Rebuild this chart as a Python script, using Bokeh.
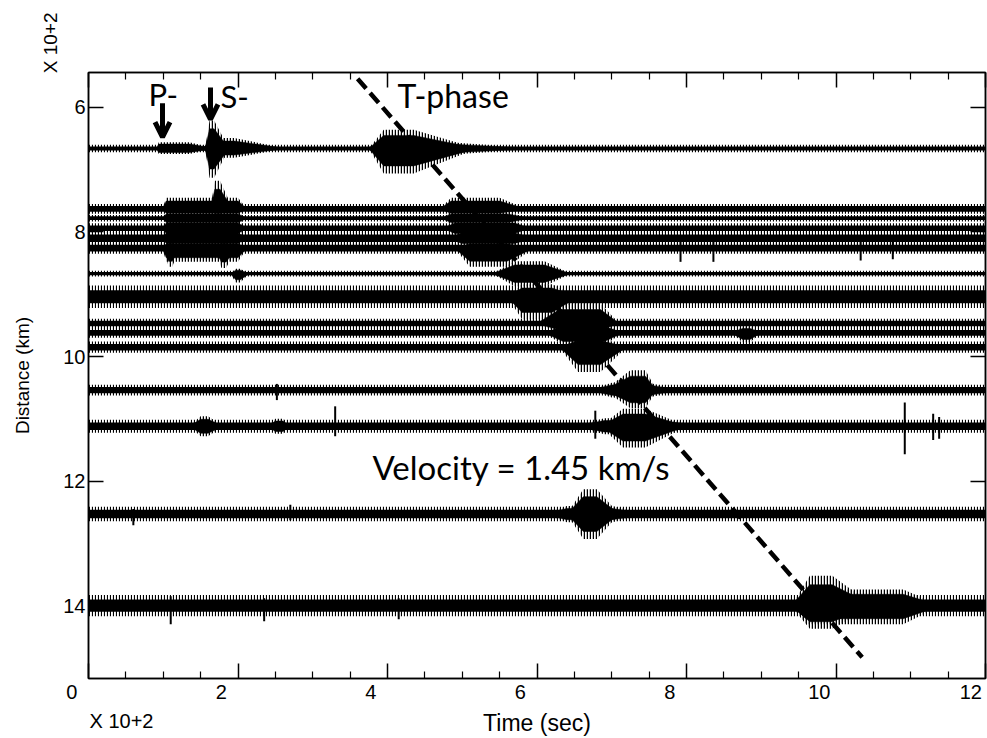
import math
from bokeh.plotting import figure
from bokeh.models import (Range1d, LinearAxis, FixedTicker, Label, Arrow,
                          OpenHead, ColumnDataSource, Title)
from bokeh.embed import file_html
from bokeh.resources import INLINE

# ---------------- data (units: x 10^2 s, x 10^2 km) ----
x_major = [0, 2, 4, 6, 8, 10, 12]
x_minor = [0.5, 1, 1.5, 2.5, 3, 3.5, 4.5, 5, 5.5, 6.5, 7, 7.5, 8.5, 9, 9.5,
           10.5, 11, 11.5]
y_major = [6, 8, 10, 12, 14]
x_tick_labels = ["0", "2", "4", "6", "8", "10", "12"]
y_tick_labels = ["6", "8", "10", "12", "14"]

record_start = 0.0
record_end = 12.0

# station distance of each trace and half-width of its background noise band
trace_dist = [6.66, 7.63, 7.78, 7.94, 8.10, 8.26, 8.67, 9.04, 9.47, 9.62,
              9.85, 10.54, 11.12, 12.53, 14.00]
trace_noise = [0.045, 0.06, 0.04, 0.06, 0.08, 0.07, 0.035, 0.14, 0.06, 0.06,
               0.07, 0.065, 0.08, 0.09, 0.13]

# wave-train envelopes: trace, onset, reach max, leave max, end, amp up, amp down
burst_trace = [0, 0, 0, 0, 0,
               1, 2, 3, 4, 5, 1, 5, 5,
               1, 2, 3, 4, 5,
               6, 7,
               8, 9, 10,
               11, 11,
               12, 12,
               13, 13,
               14, 14,
               12, 12, 9, 6]
burst_t0 = [0.91, 1.56, 1.52, 3.75, 3.60,
            0.99, 0.99, 0.99, 0.99, 0.99, 1.63, 1.68, 1.02,
            4.70, 4.72, 4.75, 4.80, 4.90,
            5.40, 5.60,
            6.00, 6.10, 6.30,
            6.90, 6.70,
            6.85, 6.50,
            6.40, 6.10,
            9.40, 9.40,
            1.35, 2.40, 8.60, 1.90]
burst_ta = [0.94, 1.62, 1.64, 3.95, 4.30,
            1.04, 1.04, 1.04, 1.04, 1.04, 1.69, 1.78, 1.07,
            4.85, 4.85, 4.90, 5.00, 5.10,
            5.70, 5.80,
            6.30, 6.35, 6.55,
            7.25, 7.00,
            7.15, 6.90,
            6.62, 6.40,
            9.65, 9.60,
            1.50, 2.50, 8.75, 1.97]
burst_tb = [1.35, 1.68, 1.95, 4.35, 4.60,
            2.00, 2.00, 2.00, 2.00, 2.00, 1.76, 1.84, 1.12,
            5.50, 5.60, 5.70, 5.70, 5.60,
            6.10, 6.20,
            6.85, 6.90, 6.85,
            7.45, 7.50,
            7.45, 7.60,
            6.80, 7.00,
            9.95, 10.90,
            1.60, 2.60, 8.85, 2.03]
burst_t1 = [1.70, 1.88, 2.65, 5.20, 6.00,
            2.12, 2.12, 2.12, 2.12, 2.12, 1.93, 1.98, 1.22,
            5.85, 5.90, 5.90, 5.95, 5.95,
            6.45, 6.55,
            7.10, 7.15, 7.20,
            7.60, 7.90,
            8.00, 8.30,
            7.10, 7.50,
            10.50, 11.40,
            1.80, 2.70, 9.00, 2.15]
burst_up = [0.10, 0.45, 0.17, 0.30, 0.12,
            0.18, 0.10, 0.12, 0.12, 0.10, 0.45, 0.10, 0.10,
            0.18, 0.10, 0.12, 0.12, 0.10,
            0.20, 0.20,
            0.32, 0.15, 0.15,
            0.32, 0.12,
            0.28, 0.13,
            0.40, 0.13,
            0.48, 0.26,
            0.16, 0.12, 0.10, 0.08]
burst_down = [0.09, 0.47, 0.15, 0.40, 0.12,
              0.10, 0.10, 0.12, 0.12, 0.22, 0.10, 0.32, 0.30,
              0.10, 0.10, 0.12, 0.12, 0.30,
              0.20, 0.36,
              0.15, 0.20, 0.40,
              0.29, 0.12,
              0.34, 0.13,
              0.40, 0.13,
              0.37, 0.30,
              0.16, 0.12, 0.15, 0.14]

# isolated spikes: trace, time, amp up, amp down
spike_trace = [12, 12, 12, 12, 12, 11, 5, 5, 5, 5, 14, 14, 14, 13, 13]
spike_t = [10.92, 11.30, 11.38, 3.30, 6.78, 2.52, 7.92, 8.36, 10.33, 10.76,
           1.10, 2.35, 4.15, 0.60, 2.70]
spike_up = [0.38, 0.20, 0.15, 0.32, 0.25, 0.10, 0.10, 0.10, 0.10, 0.10,
            0.15, 0.12, 0.12, 0.08, 0.15]
spike_down = [0.45, 0.22, 0.20, 0.16, 0.20, 0.16, 0.22, 0.22, 0.20, 0.18,
              0.30, 0.25, 0.22, 0.18, 0.10]

# T-phase moveout line
tphase_t = [3.60, 10.35]
tphase_d = [5.54, 14.83]

# ---------------- figure ----------------------------------------------------
W, H = 987, 738
FL, FR, FT, FB = 88, 2, 72, 57
X0, X1 = 0.0, 12.0
Y_BOT, Y_TOP = 15.17, 5.44
FW, FH = W - FL - FR, H - FT - FB


def X(px):
    return X0 + (px - FL) * (X1 - X0) / FW


def Y(py):
    return Y_TOP + (py - FT) * (Y_BOT - Y_TOP) / FH


AX_FONT = "Liberation Sans"
AN_FONT = "Lato"
NB = "\u00a0"

p = figure(width=W, height=H, output_backend="svg", toolbar_location=None,
           x_range=Range1d(X0, X1), y_range=Range1d(Y_BOT, Y_TOP),
           x_axis_location=None, y_axis_location=None,
           min_border_left=FL, min_border_right=FR,
           min_border_top=FT, min_border_bottom=FB)
p.background_fill_color = "white"
p.border_fill_color = "white"
p.outline_line_color = "black"
p.outline_line_width = 1.5
p.xgrid.visible = False
p.ygrid.visible = False


def make_axis(horizontal, ticks=True):
    if horizontal:
        tk = FixedTicker(ticks=x_major, minor_ticks=x_minor)
    elif ticks:
        tk = FixedTicker(ticks=y_major, minor_ticks=[])
    else:
        tk = FixedTicker(ticks=[], minor_ticks=[])
    ax = LinearAxis(ticker=tk)
    ax.axis_line_color = "black"
    ax.axis_line_width = 1.5
    ax.major_tick_in = 15
    ax.major_tick_out = 0
    ax.minor_tick_in = 7
    ax.minor_tick_out = 0
    ax.major_tick_line_color = "black"
    ax.major_tick_line_width = 1.5
    ax.minor_tick_line_color = "black"
    ax.minor_tick_line_width = 1.2
    ax.major_label_text_font = AX_FONT
    ax.major_label_text_font_size = "20px"
    ax.major_label_text_color = "black"
    ax.axis_label_text_font = AX_FONT
    ax.axis_label_text_font_style = "normal"
    ax.axis_label_text_color = "black"
    return ax


# bottom axis: labels sit a little left of their ticks, as in the original
bottom = make_axis(True)
bottom.major_label_overrides = {
    v: s + NB * (1 if v == x_major[-1] else 6)
    for v, s in zip(x_major, x_tick_labels)}
bottom.major_label_standoff = 2
bottom.axis_label = "Time (sec)"
bottom.axis_label_text_font_size = "23px"
bottom.axis_label_standoff = 4
p.add_layout(bottom, "below")
p.add_layout(Title(text="X 10+2", align="left", offset=1, standoff=-58,
                   vertical_align="top", text_font=AX_FONT,
                   text_font_size="20px", text_font_style="normal",
                   text_color="black"), "below")

left = make_axis(False)
left.major_label_overrides = {v: s for v, s in zip(y_major, y_tick_labels)}
left.major_label_standoff = 3
p.add_layout(left, "left")
p.add_layout(Title(text="X 10+2", align="right", offset=-60, standoff=0,
                   text_font=AX_FONT, text_font_size="19px",
                   text_font_style="normal", text_color="black"), "left")
dist_axis = make_axis(False, ticks=False)
dist_axis.axis_line_color = None
dist_axis.major_label_standoff = 0
dist_axis.axis_label = "Distance (km)"
dist_axis.axis_label_text_font_size = "19px"
dist_axis.axis_label_standoff = 5
p.add_layout(dist_axis, "left")

top = make_axis(True)
top.major_label_overrides = {v: "" for v in x_major}
p.add_layout(top, "above")

right = make_axis(False)
right.major_label_overrides = {v: "" for v in y_major}
p.add_layout(right, "right")

# background noise bands: solid core plus a hairy fringe
src_bg = ColumnDataSource(dict(
    left=[record_start] * len(trace_dist),
    right=[record_end] * len(trace_dist),
    top=[d - a * 0.75 for d, a in zip(trace_dist, trace_noise)],
    bottom=[d + a * 0.75 for d, a in zip(trace_dist, trace_noise)],
    ftop=[d - a * 1.3 for d, a in zip(trace_dist, trace_noise)],
    fbottom=[d + a * 1.3 for d, a in zip(trace_dist, trace_noise)]))
p.quad(left="left", right="right", top="ftop", bottom="fbottom", source=src_bg,
       fill_color=None, line_color=None, hatch_pattern="vertical_line",
       hatch_color="black", hatch_scale=3, hatch_weight=1.2)
p.quad(left="left", right="right", top="top", bottom="bottom", source=src_bg,
       fill_color="black", line_color=None)

# wave-train envelopes: hairy outer envelope plus solid core
xs, ys, cxs, cys = [], [], [], []
for k, t0, ta, tb, t1, up, dn in zip(burst_trace, burst_t0, burst_ta, burst_tb,
                                     burst_t1, burst_up, burst_down):
    d = trace_dist[k]
    xs.append([t0, ta, tb, t1, tb, ta])
    ys.append([d, d - up, d - up, d, d + dn, d + dn])
    cxs.append([t0, ta, tb, t1, tb, ta])
    cys.append([d, d - up * 0.7, d - up * 0.7, d, d + dn * 0.7, d + dn * 0.7])
p.patches(xs, ys, fill_color=None, line_color=None,
          hatch_pattern="vertical_line", hatch_color="black", hatch_scale=3,
          hatch_weight=1.5)
p.patches(cxs, cys, fill_color="black", line_color="black", line_width=0.5)

# spikes
src_sp = ColumnDataSource(dict(
    x=spike_t,
    y0=[trace_dist[k] - u for k, u in zip(spike_trace, spike_up)],
    y1=[trace_dist[k] + v for k, v in zip(spike_trace, spike_down)]))
p.segment(x0="x", y0="y0", x1="x", y1="y1", source=src_sp,
          line_color="black", line_width=2)

# T-phase moveout
p.line(tphase_t, tphase_d, line_color="black", line_width=4.5,
       line_dash="13 6")

# ---------------- annotations inside the frame ------------------------------
p.add_layout(Label(x=X(148), y=Y(94), text="P-", text_font=AN_FONT,
                   text_font_size="31px", text_align="left",
                   text_baseline="middle", text_color="black"))
p.add_layout(Label(x=X(220), y=Y(96), text="S-", text_font=AN_FONT,
                   text_font_size="31px", text_align="left",
                   text_baseline="middle", text_color="black"))
p.add_layout(Label(x=X(397), y=Y(95), text="T-phase", text_font=AN_FONT,
                   text_font_size="32px", text_align="left",
                   text_baseline="middle", text_color="black"))
p.add_layout(Label(x=X(372), y=Y(468), text="Velocity = 1.45 km/s",
                   text_font=AN_FONT, text_font_size="33px", text_align="left",
                   text_baseline="middle", text_color="black"))

p.add_layout(Arrow(x_start=X(162), y_start=Y(103), x_end=X(162), y_end=Y(137),
                   line_width=5, line_color="black",
                   end=OpenHead(size=15, line_width=5, line_color="black")))
p.add_layout(Arrow(x_start=X(210), y_start=Y(87), x_end=X(210), y_end=Y(119),
                   line_width=5, line_color="black",
                   end=OpenHead(size=15, line_width=5, line_color="black")))

open("out.html", "w").write(file_html(p, INLINE))
